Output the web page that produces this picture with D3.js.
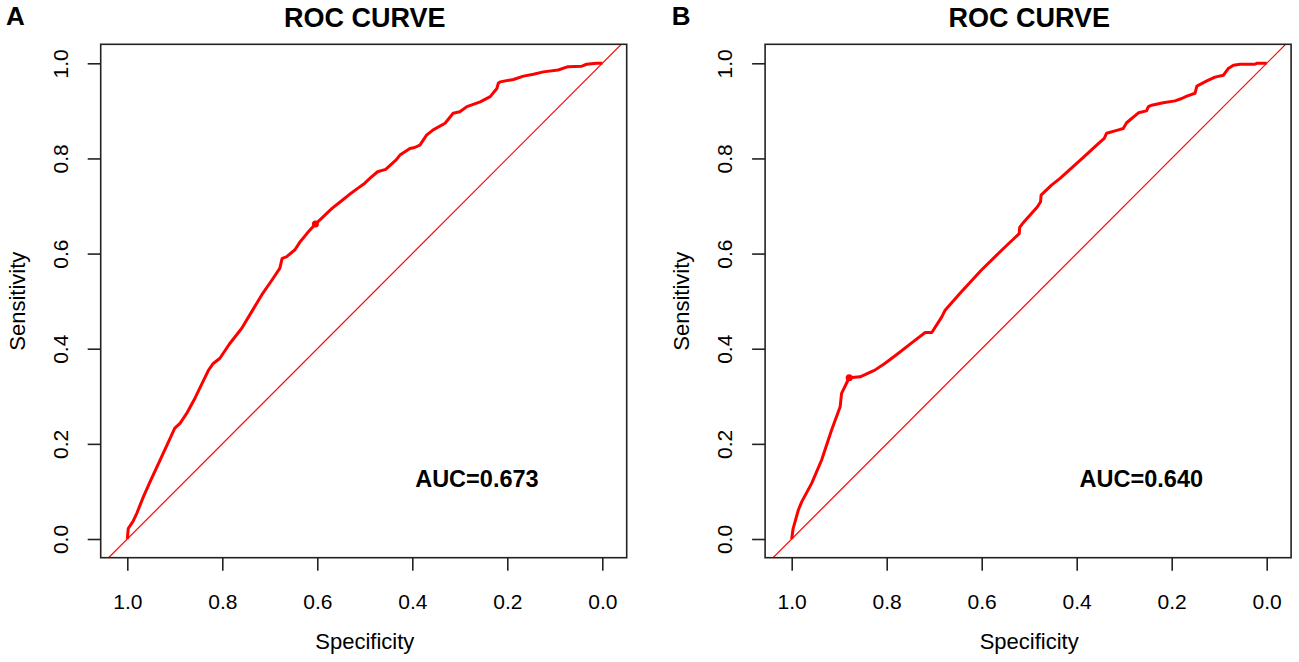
<!DOCTYPE html>
<html>
<head>
<meta charset="utf-8">
<script src="https://cdn.jsdelivr.net/npm/d3@7"></script>
<style>
  body { margin: 0; background: #fff; }
  svg text { font-family: "Liberation Sans", Arial, sans-serif; fill: #000; }
</style>
</head>
<body>
<svg id="chart" width="1299" height="662"></svg>
<script>
// ROC curve A (specificity, sensitivity)
const specA = [1.000, 0.998, 0.988, 0.980, 0.966, 0.950, 0.931, 0.900, 0.889, 0.875, 0.857, 0.829, 0.819, 0.805,
  0.785, 0.759, 0.738, 0.717, 0.695, 0.679, 0.674, 0.665, 0.647, 0.636, 0.622, 0.604, 0.590, 0.569, 0.550, 0.534,
  0.515, 0.500, 0.487, 0.473, 0.456, 0.445, 0.434, 0.426, 0.405, 0.395, 0.384, 0.370, 0.356, 0.331, 0.314, 0.300,
  0.285, 0.257, 0.236, 0.222, 0.219, 0.215, 0.187, 0.166, 0.145, 0.124, 0.093, 0.072, 0.043, 0.033, 0.012, 0.000];
const sensA = [0.000, 0.022, 0.037, 0.054, 0.089, 0.125, 0.166, 0.233, 0.243, 0.264, 0.297, 0.355, 0.369, 0.380,
  0.410, 0.443, 0.478, 0.513, 0.545, 0.569, 0.590, 0.593, 0.608, 0.625, 0.642, 0.662, 0.675, 0.695, 0.710, 0.723,
  0.737, 0.748, 0.760, 0.772, 0.777, 0.787, 0.797, 0.807, 0.821, 0.823, 0.828, 0.849, 0.860, 0.874, 0.895, 0.898,
  0.909, 0.919, 0.930, 0.947, 0.958, 0.961, 0.966, 0.973, 0.977, 0.982, 0.986, 0.993, 0.994, 0.998, 1.000, 1.000];

// ROC curve B
const specB = [1.000, 0.997, 0.986, 0.979, 0.958, 0.937, 0.916, 0.898, 0.895, 0.879, 0.856, 0.825, 0.804, 0.776,
  0.744, 0.719, 0.705, 0.684, 0.677, 0.646, 0.601, 0.558, 0.521, 0.520, 0.514, 0.483, 0.476, 0.475, 0.453, 0.435,
  0.386, 0.358, 0.342, 0.337, 0.312, 0.302, 0.295, 0.270, 0.253, 0.249, 0.242, 0.218, 0.193, 0.179, 0.168, 0.151,
  0.147, 0.126, 0.109, 0.091, 0.081, 0.070, 0.056, 0.025, 0.021, 0.000];
const sensB = [0.000, 0.022, 0.061, 0.078, 0.117, 0.166, 0.229, 0.278, 0.306, 0.339, 0.341, 0.355, 0.369, 0.390,
  0.415, 0.434, 0.434, 0.467, 0.481, 0.516, 0.565, 0.607, 0.642, 0.655, 0.663, 0.698, 0.709, 0.723, 0.744, 0.758,
  0.802, 0.828, 0.842, 0.853, 0.860, 0.863, 0.875, 0.896, 0.900, 0.909, 0.912, 0.917, 0.921, 0.926, 0.931, 0.937,
  0.952, 0.963, 0.971, 0.975, 0.989, 0.996, 0.998, 0.998, 1.000, 1.000];

const panelLabels = ['A', 'B'];
const aucLabels = ['AUC=0.673', 'AUC=0.640'];
const bestPoints = [[0.604, 0.662], [0.879, 0.339]];
const tickValues = [1.0, 0.8, 0.6, 0.4, 0.2, 0.0];

const svg = d3.select('#chart');
const fmt = d3.format('.1f');

function drawPanel(i, spec, sens, ox) {
  const g = svg.append('g').attr('transform', `translate(${ox},0)`);
  const x = d3.scaleLinear().domain([1, 0]).range([127.3, 602.3]);
  const y = d3.scaleLinear().domain([0, 1]).range([539, 63.3]);
  const left = 100.7, right = 626.7, top = 44.3, bottom = 557.7;
  const clipId = 'clip' + i;

  g.append('clipPath').attr('id', clipId)
    .append('rect').attr('x', left).attr('y', top).attr('width', right - left).attr('height', bottom - top);

  // chance diagonal
  const s0 = x.invert(left), s1 = x.invert(right);
  g.append('line')
    .attr('clip-path', `url(#${clipId})`)
    .attr('x1', x(s0)).attr('y1', y(1 - s0))
    .attr('x2', x(s1)).attr('y2', y(1 - s1))
    .attr('stroke', '#ff0000').attr('stroke-width', 1.2);

  const pts = spec.map((s, k) => [s, sens[k]]);
  g.append('path')
    .datum(pts)
    .attr('clip-path', `url(#${clipId})`)
    .attr('d', d3.line().x(d => x(d[0])).y(d => y(d[1])))
    .attr('fill', 'none').attr('stroke', '#ff0000').attr('stroke-width', 3)
    .attr('stroke-linejoin', 'round');

  g.append('circle')
    .attr('cx', x(bestPoints[i][0])).attr('cy', y(bestPoints[i][1]))
    .attr('r', 3.5).attr('fill', '#ff0000');

  g.append('rect')
    .attr('x', left).attr('y', top).attr('width', right - left).attr('height', bottom - top)
    .attr('fill', 'none').attr('stroke', '#222').attr('stroke-width', 1.6);

  const xa = g.append('g').attr('transform', `translate(0,${bottom})`)
    .call(d3.axisBottom(x).tickValues(tickValues).tickFormat(fmt).tickSize(13).tickPadding(23));
  xa.select('.domain').remove();
  xa.selectAll('line').attr('stroke', '#222').attr('stroke-width', 1.6);
  xa.selectAll('text').attr('font-size', 21).attr('fill', '#000');

  const ya = g.append('g').attr('transform', `translate(${left},0)`)
    .call(d3.axisLeft(y).tickValues(tickValues).tickFormat(fmt).tickSize(13));
  ya.select('.domain').remove();
  ya.selectAll('line').attr('stroke', '#222').attr('stroke-width', 1.6);
  ya.selectAll('text')
    .attr('font-size', 21).attr('fill', '#000')
    .attr('x', null).attr('dy', null)
    .attr('text-anchor', 'middle')
    .attr('transform', 'translate(-33.2,0) rotate(-90)');

  g.append('text').attr('x', (x(1) + x(0)) / 2).attr('y', 26.7)
    .attr('text-anchor', 'middle').attr('font-size', 27).attr('font-weight', 'bold')
    .text('ROC CURVE');

  g.append('text').attr('x', (x(1) + x(0)) / 2).attr('y', 648.5)
    .attr('text-anchor', 'middle').attr('font-size', 22)
    .text('Specificity');

  g.append('text')
    .attr('transform', `translate(25,${(y(0) + y(1)) / 2}) rotate(-90)`)
    .attr('text-anchor', 'middle').attr('font-size', 22)
    .text('Sensitivity');

  g.append('text').attr('x', x(0.264)).attr('y', 487)
    .attr('text-anchor', 'middle').attr('font-size', 23.5).attr('font-weight', 'bold')
    .text(aucLabels[i]);
}

drawPanel(0, specA, sensA, 0);
drawPanel(1, specB, sensB, 664.4);

svg.append('text').attr('x', 6).attr('y', 25).attr('font-size', 26).attr('font-weight', 'bold').text(panelLabels[0]);
svg.append('text').attr('x', 671.7).attr('y', 25).attr('font-size', 26).attr('font-weight', 'bold').text(panelLabels[1]);
</script>
</body>
</html>
